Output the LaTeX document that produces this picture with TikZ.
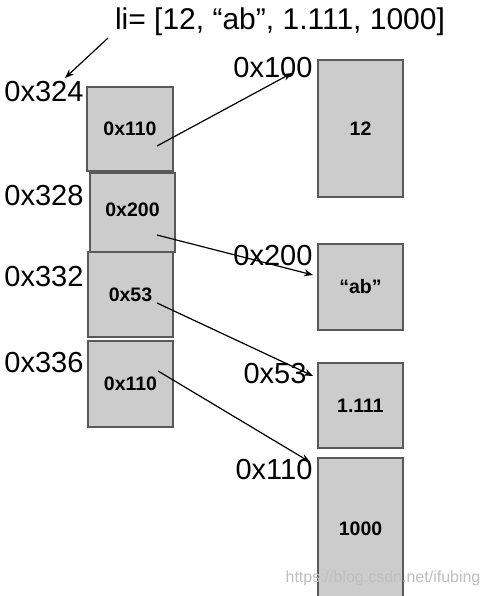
\documentclass[tikz,border=0pt]{standalone}
\usepackage{fontspec}
\setmainfont{Liberation Sans}
\usetikzlibrary{arrows.meta}
\begin{document}
\begin{tikzpicture}[x=1pt,y=-1pt,
  cell/.style={draw=black!65, line width=1.3pt, fill=black!20, inner sep=0pt,
    font=\bfseries\fontsize{19.5}{19.5}\selectfont},
  addr/.style={inner sep=0pt, font=\fontsize{29}{29}\selectfont},
  ptr/.style={line width=1.2pt, -{Stealth[length=9pt,width=7pt]}}]
\useasboundingbox (0,0) rectangle (489,596);
\fill[white] (0,0) rectangle (489,596);
% title
\node[inner sep=0pt, font=\fontsize{30}{30}\selectfont] (title) at (280,22) {li= [12, “ab”, 1.111, 1000]};
% left cells
\node[cell, minimum width=86pt, minimum height=84pt] (b1) at (130,129) {0x110};
\node[cell, minimum width=85pt, minimum height=79pt, text depth=5pt] (b2) at (132.5,212.5) {0x200};
\node[cell, minimum width=85pt, minimum height=85pt] (b3) at (130.5,294.5) {0x53};
\node[cell, minimum width=85pt, minimum height=86pt] (b4) at (130.5,384) {0x110};
% right cells
\node[cell, minimum width=85pt, minimum height=137pt] (r1) at (360.5,128.5) {12};
\node[cell, minimum width=85pt, minimum height=86pt] (r2) at (360.5,287) {“ab”};
\node[cell, minimum width=85pt, minimum height=85pt] (r3) at (360.5,405.5) {1.111};
\node[cell, minimum width=85pt, minimum height=142pt] (r4) at (360.5,529) {1000};
% left addresses
\node[addr] (l1) at (44,92) {0x324};
\node[addr] (l2) at (44,196) {0x328};
\node[addr] (l3) at (44,277) {0x332};
\node[addr] (l4) at (44,363) {0x336};
% right addresses
\node[addr] (a1) at (273,68) {0x100};
\node[addr] (a2) at (273,256) {0x200};
\node[addr] (a3) at (275,374) {0x53};
\node[addr] (a4) at (274,470) {0x110};
% connector end points
\coordinate (t0) at (108,38);
\coordinate (e0) at (65,78);
\coordinate (s1) at (157,146);
\coordinate (e1) at (292,73);
\coordinate (s2) at (157,235);
\coordinate (e2) at (313,275);
\coordinate (s3) at (157,303);
\coordinate (e3) at (313,376);
\coordinate (s4) at (158,371);
\coordinate (e4) at (310,462);
\draw[ptr] (t0) -- (e0);
\draw[ptr] (s1) -- (e1);
\draw[ptr] (s2) -- (e2);
\draw[ptr] (s3) -- (e3);
\draw[ptr] (s4) -- (e4);
% watermark
\node[inner sep=0pt, text=black!25, font=\fontsize{16}{16}\selectfont] (wm) at (383,578) {https://blog.csdn.net/ifubing};
\end{tikzpicture}
\end{document}
